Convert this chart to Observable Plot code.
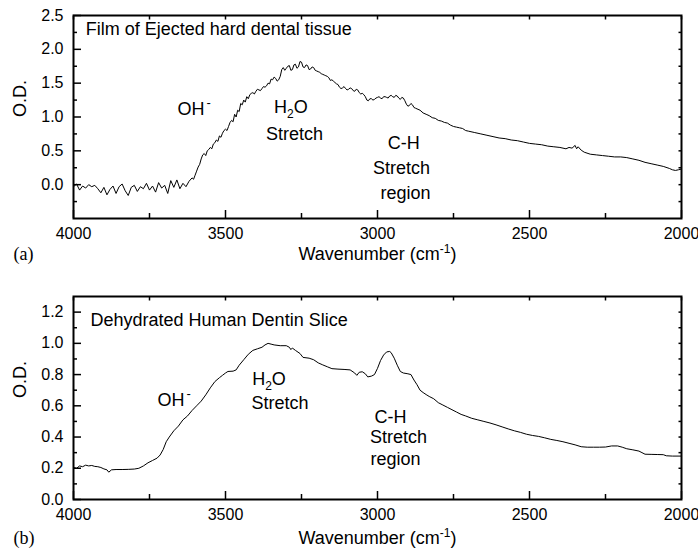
<!DOCTYPE html>
<html><head><meta charset="utf-8">
<script src="https://cdn.jsdelivr.net/npm/d3@7"></script>
<script src="https://cdn.jsdelivr.net/npm/@observablehq/plot@0.6"></script>
<style>body{margin:0;background:#fff;} svg{display:block;}</style>
</head><body><div id="chart"></div>
<script>
// Panel (a): Film of ejected hard dental tissue  [wavenumber, O.D.]
const filmSpectrum = [
[4000,-0.03],[3990,0.01],[3980,-0.08],[3970,-0.02],[3960,-0.05],[3950,0.0],[3940,-0.03],[3930,-0.01],[3920,-0.06],[3910,-0.12],
[3900,-0.04],[3890,-0.15],[3880,-0.07],[3870,-0.02],[3860,-0.13],[3850,-0.03],[3840,0.01],[3830,-0.09],[3820,-0.16],[3810,-0.04],
[3800,-0.01],[3790,-0.10],[3780,-0.03],[3770,-0.06],[3760,0.02],[3750,-0.08],[3740,-0.02],[3730,-0.11],[3720,0.03],[3710,-0.05],
[3700,-0.01],[3690,-0.13],[3680,0.06],[3670,-0.04],[3660,0.07],[3650,-0.06],[3640,0.02],[3630,-0.03],[3620,0.05],[3610,0.10],
[3605,0.08],[3600,0.14],[3595,0.20],[3590,0.26],[3585,0.30],[3580,0.38],[3575,0.44],[3570,0.46],[3565,0.43],[3560,0.50],
[3555,0.52],[3550,0.55],[3545,0.53],[3540,0.60],[3535,0.62],[3530,0.66],[3525,0.64],[3520,0.72],[3515,0.70],[3510,0.76],
[3505,0.80],[3500,0.82],[3495,0.80],[3490,0.86],[3485,0.92],[3480,0.95],[3475,0.93],[3470,1.04],[3465,1.00],[3460,1.10],
[3455,1.08],[3450,1.20],[3445,1.18],[3440,1.25],[3435,1.22],[3430,1.30],[3425,1.27],[3420,1.33],[3415,1.35],[3410,1.36],
[3405,1.34],[3400,1.38],[3395,1.41],[3390,1.40],[3385,1.39],[3380,1.42],[3375,1.45],[3370,1.44],[3365,1.46],[3360,1.50],
[3355,1.49],[3350,1.56],[3345,1.55],[3340,1.59],[3335,1.57],[3330,1.53],[3325,1.55],[3320,1.60],[3315,1.70],[3310,1.73],
[3305,1.69],[3300,1.72],[3295,1.75],[3290,1.76],[3285,1.69],[3280,1.70],[3275,1.77],[3270,1.78],[3265,1.72],[3260,1.74],
[3255,1.82],[3250,1.81],[3245,1.74],[3240,1.73],[3235,1.77],[3230,1.76],[3225,1.70],[3220,1.71],[3215,1.74],[3210,1.73],
[3205,1.69],[3200,1.68],[3195,1.67],[3190,1.66],[3185,1.64],[3180,1.63],[3175,1.62],[3170,1.61],[3165,1.60],[3160,1.58],
[3155,1.54],[3150,1.55],[3145,1.53],[3140,1.51],[3135,1.49],[3130,1.48],[3125,1.44],[3120,1.42],[3115,1.43],[3110,1.45],
[3105,1.42],[3100,1.40],[3095,1.41],[3090,1.43],[3085,1.42],[3080,1.39],[3075,1.38],[3070,1.41],[3065,1.40],[3060,1.36],
[3055,1.34],[3050,1.35],[3045,1.33],[3040,1.30],[3035,1.25],[3030,1.24],[3025,1.27],[3020,1.27],[3015,1.25],[3010,1.26],
[3005,1.28],[3000,1.29],[2995,1.30],[2990,1.28],[2985,1.27],[2980,1.30],[2975,1.30],[2970,1.29],[2965,1.28],[2960,1.31],
[2955,1.32],[2950,1.30],[2945,1.29],[2940,1.32],[2935,1.31],[2930,1.28],[2925,1.26],[2920,1.29],[2915,1.28],[2910,1.24],
[2905,1.19],[2900,1.16],[2895,1.17],[2890,1.20],[2885,1.18],[2880,1.14],[2875,1.13],[2870,1.12],[2860,1.10],[2850,1.06],
[2840,1.04],[2830,1.02],[2820,0.99],[2810,0.98],[2800,0.95],[2790,0.94],[2780,0.92],[2770,0.91],[2760,0.88],[2750,0.86],
[2740,0.85],[2730,0.84],[2720,0.83],[2710,0.80],[2700,0.79],[2680,0.77],[2660,0.75],[2640,0.73],[2620,0.71],[2600,0.69],
[2580,0.68],[2560,0.66],[2540,0.65],[2520,0.63],[2500,0.61],[2480,0.60],[2460,0.59],[2440,0.57],[2420,0.56],[2400,0.55],
[2380,0.53],[2370,0.55],[2360,0.54],[2350,0.58],[2345,0.53],[2340,0.56],[2330,0.51],[2320,0.48],[2300,0.45],[2280,0.44],
[2260,0.43],[2240,0.42],[2220,0.41],[2200,0.41],[2180,0.40],[2160,0.38],[2140,0.36],[2120,0.33],[2100,0.31],[2080,0.29],
[2060,0.27],[2040,0.24],[2030,0.22],[2020,0.21],[2010,0.22],[2000,0.23]
];
// Panel (b): Dehydrated human dentin slice  [wavenumber, O.D.]
const dentinSpectrum = [
[4000,0.205],[3990,0.20],[3980,0.215],[3970,0.21],[3960,0.22],[3950,0.215],[3940,0.218],[3930,0.212],[3920,0.21],[3910,0.205],
[3900,0.196],[3890,0.19],[3884,0.175],[3875,0.19],[3860,0.192],[3840,0.192],[3820,0.193],[3800,0.195],[3785,0.20],[3770,0.215],
[3755,0.235],[3740,0.25],[3725,0.265],[3715,0.285],[3705,0.32],[3695,0.37],[3685,0.40],[3670,0.44],[3655,0.47],[3640,0.51],
[3625,0.535],[3610,0.57],[3595,0.60],[3580,0.63],[3565,0.67],[3550,0.715],[3535,0.755],[3520,0.78],[3510,0.795],[3500,0.81],
[3492,0.82],[3475,0.822],[3465,0.83],[3455,0.86],[3440,0.895],[3425,0.93],[3410,0.955],[3395,0.965],[3380,0.975],[3370,0.99],
[3360,1.0],[3350,0.995],[3340,0.99],[3320,0.985],[3300,0.985],[3290,0.975],[3285,0.96],[3280,0.97],[3270,0.955],[3255,0.935],
[3245,0.91],[3225,0.905],[3210,0.895],[3195,0.875],[3180,0.862],[3165,0.85],[3150,0.838],[3130,0.835],[3110,0.833],[3090,0.83],
[3075,0.81],[3068,0.795],[3060,0.815],[3050,0.818],[3040,0.805],[3032,0.785],[3020,0.79],[3010,0.80],[3000,0.84],[2990,0.89],
[2980,0.925],[2970,0.945],[2960,0.948],[2955,0.94],[2945,0.905],[2935,0.86],[2925,0.82],[2915,0.81],[2900,0.805],[2890,0.80],
[2880,0.765],[2870,0.735],[2860,0.70],[2850,0.685],[2840,0.672],[2830,0.66],[2815,0.645],[2800,0.62],[2785,0.605],[2770,0.59],
[2755,0.575],[2740,0.56],[2725,0.545],[2710,0.535],[2690,0.52],[2670,0.51],[2650,0.50],[2630,0.49],[2610,0.478],[2590,0.465],
[2570,0.452],[2550,0.44],[2530,0.43],[2510,0.418],[2490,0.41],[2470,0.404],[2450,0.395],[2430,0.385],[2410,0.378],[2390,0.37],
[2370,0.36],[2350,0.35],[2330,0.338],[2310,0.335],[2290,0.335],[2270,0.335],[2250,0.336],[2230,0.343],[2210,0.343],[2195,0.335],
[2180,0.325],[2160,0.318],[2140,0.31],[2130,0.30],[2120,0.29],[2100,0.289],[2080,0.288],[2060,0.287],[2050,0.28],[2030,0.278],
[2000,0.278]
];

const xDomain = [4000, 2000];
const xMajorTicks = [4000, 3500, 3000, 2500, 2000];
const xMinorTicks = [3750, 3250, 2750, 2250];
const xAllTicks = [4000, 3750, 3500, 3250, 3000, 2750, 2500, 2250, 2000];

const yDomainA = [-0.5, 2.5];
const yMajorA = [0, 0.5, 1, 1.5, 2, 2.5];
const yMinorA = [-0.25, 0.25, 0.75, 1.25, 1.75, 2.25];
const yAllA = [-0.25, 0, 0.25, 0.5, 0.75, 1, 1.25, 1.5, 1.75, 2, 2.25];

const yDomainB = [0, 1.3];
const yMajorB = [0, 0.2, 0.4, 0.6, 0.8, 1.0, 1.2];
const yMinorB = [0.1, 0.3, 0.5, 0.7, 0.9, 1.1];
const yAllB = [0.1, 0.2, 0.3, 0.4, 0.5, 0.6, 0.7, 0.8, 0.9, 1.0, 1.1, 1.2];

const xLabel = "Wavenumber (cm-1)";
const yLabel = "O.D.";

// annotation texts with anchor positions in data units
const notesStartA = [
  {text: "Film of Ejected hard dental tissue", wn: 3960, od: 2.29},
  {text: "OH-", wn: 3658, od: 1.11}
];
const notesMidA = [
  {text: "H2O", wn: 3285, od: 1.14},
  {text: "Stretch", wn: 3273, od: 0.75},
  {text: "C-H", wn: 2914, od: 0.61},
  {text: "Stretch", wn: 2921, od: 0.25},
  {text: "region", wn: 2908, od: -0.12}
];
const notesStartB = [
  {text: "Dehydrated Human Dentin Slice", wn: 3944, od: 1.15},
  {text: "OH-", wn: 3724, od: 0.635}
];
const notesMidB = [
  {text: "H2O", wn: 3357, od: 0.77},
  {text: "Stretch", wn: 3321, od: 0.615},
  {text: "C-H", wn: 2957, od: 0.53},
  {text: "Stretch", wn: 2931, od: 0.40},
  {text: "region", wn: 2941, od: 0.26}
];

const SANS = "'Liberation Sans', Arial, Helvetica, sans-serif";
const SERIF = "'Liberation Serif', 'Times New Roman', serif";

function panel({data, yDomain, yMajor, yMinor, yAll, notesStart, notesMid, tag, marginTop, marginBottom, tickLabelPad, xLabelDy}) {
  const yFmt = d3.format(".1f");
  return Plot.plot({
    width: 698, height: 277,
    marginLeft: 73, marginRight: 17, marginTop, marginBottom,
    x: {domain: xDomain},
    y: {domain: yDomain},
    style: {fontFamily: SANS, fontSize: "16px", color: "black", background: "white"},
    marks: [
      Plot.line(data, {x: d => d[0], y: d => d[1], stroke: "black", strokeWidth: 1}),
      // bottom ticks (inward)
      Plot.axisX(xMajorTicks, {anchor: "bottom", tickSize: -8, fill: "none", strokeWidth: 1.5, label: null}),
      Plot.axisX(xMinorTicks, {anchor: "bottom", tickSize: -5, fill: "none", strokeWidth: 1.5, label: null}),
      Plot.axisX(xMajorTicks, {anchor: "bottom", tickSize: 0, stroke: "none", tickPadding: tickLabelPad, tickFormat: d => String(d), fontSize: 16, label: null}),
      // top ticks
      Plot.axisX(xAllTicks, {anchor: "top", tickSize: -3.5, fill: "none", strokeWidth: 1.5, label: null}),
      // left ticks
      Plot.axisY(yMajor, {anchor: "left", tickSize: -8, fill: "none", strokeWidth: 1.5, label: null}),
      Plot.axisY(yMinor, {anchor: "left", tickSize: -4, fill: "none", strokeWidth: 1.5, label: null}),
      Plot.axisY(yMajor, {anchor: "left", tickSize: 0, stroke: "none", tickPadding: 10, tickFormat: yFmt, fontSize: 16, label: null}),
      // right ticks
      Plot.axisY(yAll, {anchor: "right", tickSize: -3.5, fill: "none", strokeWidth: 1.5, label: null}),
      Plot.frame({stroke: "black", strokeWidth: 2}),
      // annotations
      Plot.text(notesStart, {x: "wn", y: "od", text: "text", textAnchor: "start", fontSize: 18, fill: "black"}),
      Plot.text(notesMid, {x: "wn", y: "od", text: "text", textAnchor: "middle", fontSize: 18, fill: "black"}),
      // axis titles
      Plot.text([xLabel], {frameAnchor: "bottom", dy: xLabelDy, text: d => d, fontSize: 18, fill: "black"}),
      Plot.text([yLabel], {frameAnchor: "left", dx: -53, rotate: -90, text: d => d, fontSize: 18, fill: "black"}),
      Plot.text([tag], {frameAnchor: "bottom-left", dx: -60, dy: xLabelDy, textAnchor: "start", text: d => d, fontSize: 18, fontFamily: SERIF, fill: "black"})
    ]
  });
}

function richText(svg) {
  svg.querySelectorAll("text").forEach(t => {
    const s = t.textContent;
    if (s === "OH-") t.innerHTML = 'OH<tspan dx="2" dy="-8" font-size="13">-</tspan>';
    else if (s === "H2O") t.innerHTML = 'H<tspan dy="5" font-size="12">2</tspan><tspan dy="-5">O</tspan>';
    else if (s === "Wavenumber (cm-1)") t.innerHTML = 'Wavenumber (cm<tspan dy="-7" font-size="12">-1</tspan><tspan dy="7">)</tspan>';
  });
  return svg;
}

const chart = document.getElementById("chart");
chart.append(richText(panel({
  data: filmSpectrum, yDomain: yDomainA, yMajor: yMajorA, yMinor: yMinorA, yAll: yAllA,
  notesStart: notesStartA, notesMid: notesMidA, tag: "(a)",
  marginTop: 15, marginBottom: 59, tickLabelPad: 9, xLabelDy: 41
})));
chart.append(richText(panel({
  data: dentinSpectrum, yDomain: yDomainB, yMajor: yMajorB, yMinor: yMinorB, yAll: yAllB,
  notesStart: notesStartB, notesMid: notesMidB, tag: "(b)",
  marginTop: 19, marginBottom: 55, tickLabelPad: 9, xLabelDy: 44
})));
</script>
</body></html>
